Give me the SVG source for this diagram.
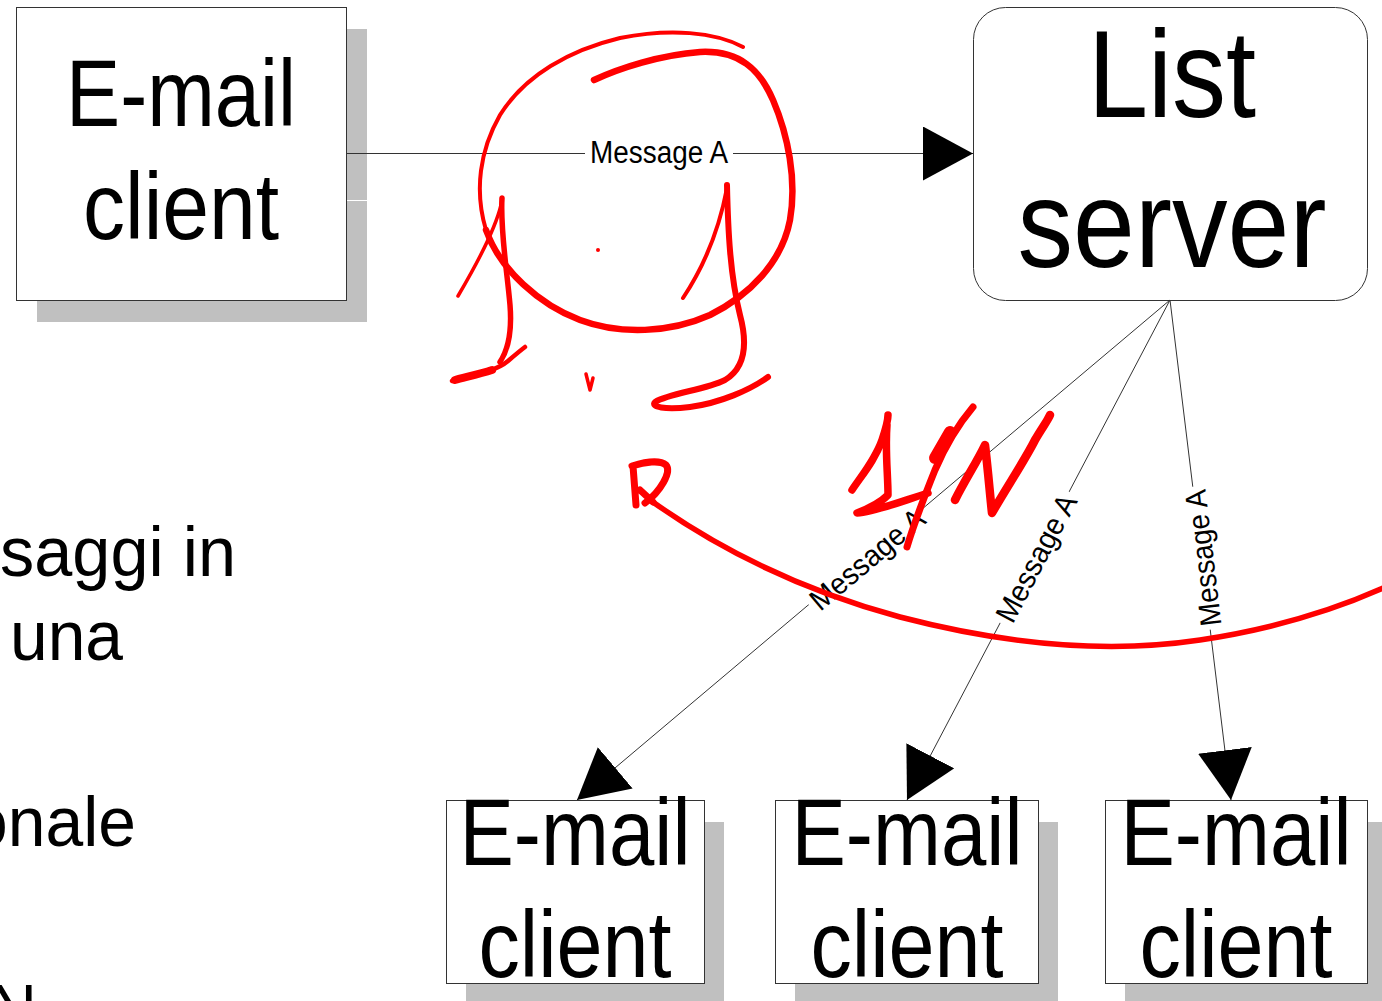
<svg xmlns="http://www.w3.org/2000/svg" width="1382" height="1001" viewBox="0 0 1382 1001">
  <style>
    .box { fill: #ffffff; stroke: #333333; stroke-width: 1; }
    .shadow { fill: #c0c0c0; }
    .big { font-family: "Liberation Sans", Arial, sans-serif; fill: #000; text-anchor: middle; }
    .side { font-family: "Liberation Sans", Arial, sans-serif; fill: #000; font-size: 71px; }
    .lbl { font-family: "Liberation Sans", Arial, sans-serif; fill: #000; text-anchor: middle; dominant-baseline: central; font-size: 30px; }
    .conn { stroke: #333333; stroke-width: 1; fill: none; }
    .ink { stroke: #ff0000; fill: none; stroke-linecap: round; stroke-linejoin: round; }
  </style>
  <defs>
    <marker id="arrow" markerUnits="userSpaceOnUse" markerWidth="50" markerHeight="54" refX="50" refY="27" orient="auto" viewBox="0 0 50 54">
      <path d="M0,0 L50,27 L0,54 Z" fill="#000"/>
    </marker>
  </defs>
  <rect width="1382" height="1001" fill="#ffffff"/>

  <g id="slide-text">
    <text class="side" x="0" y="576" textLength="236" lengthAdjust="spacingAndGlyphs">saggi in</text>
    <text class="side" x="10" y="660" textLength="113" lengthAdjust="spacingAndGlyphs">una</text>
    <text class="side" x="-30" y="846" textLength="166" lengthAdjust="spacingAndGlyphs">onale</text>
    <text class="side" x="-11" y="1034" textLength="48" lengthAdjust="spacingAndGlyphs">N</text>
  </g>

  <g id="client-top">
    <rect class="shadow" x="37" y="29" width="330" height="293"/>
    <line x1="347" y1="200.5" x2="367" y2="200.5" stroke="#ffffff" stroke-width="1"/>
    <rect class="box" x="16.5" y="7.5" width="330" height="293"/>
    <text class="big" x="181" y="126" font-size="94" textLength="230" lengthAdjust="spacingAndGlyphs">E-mail</text>
    <text class="big" x="181" y="239" font-size="94" textLength="196" lengthAdjust="spacingAndGlyphs">client</text>
  </g>

  <g id="list-server">
    <rect class="box" x="973.5" y="7.5" width="394" height="293" rx="32" ry="32"/>
    <text class="big" x="1172" y="117" font-size="124" textLength="168" lengthAdjust="spacingAndGlyphs">List</text>
    <text class="big" x="1172" y="267" font-size="124" textLength="309" lengthAdjust="spacingAndGlyphs">server</text>
  </g>

  <g id="client-1">
    <rect class="shadow" x="466" y="822" width="258" height="183"/>
    <rect class="box" x="446.5" y="800.5" width="258" height="183"/>
    <text class="big" x="575" y="865" font-size="94" textLength="231" lengthAdjust="spacingAndGlyphs">E-mail</text>
    <text class="big" x="575" y="977" font-size="94" textLength="193" lengthAdjust="spacingAndGlyphs">client</text>
  </g>

  <g id="client-2">
    <rect class="shadow" x="795" y="822" width="263" height="183"/>
    <rect class="box" x="775.5" y="800.5" width="263" height="183"/>
    <text class="big" x="907" y="865" font-size="94" textLength="231" lengthAdjust="spacingAndGlyphs">E-mail</text>
    <text class="big" x="907" y="977" font-size="94" textLength="193" lengthAdjust="spacingAndGlyphs">client</text>
  </g>

  <g id="client-3">
    <rect class="shadow" x="1125" y="822" width="262" height="183"/>
    <rect class="box" x="1105.5" y="800.5" width="262" height="183"/>
    <text class="big" x="1236" y="865" font-size="94" textLength="231" lengthAdjust="spacingAndGlyphs">E-mail</text>
    <text class="big" x="1236" y="977" font-size="94" textLength="193" lengthAdjust="spacingAndGlyphs">client</text>
  </g>

  <g id="connectors">
    <line class="conn" x1="346" y1="153.5" x2="973" y2="153.5" marker-end="url(#arrow)"/>
    <rect x="585" y="139" width="148" height="29" fill="#ffffff"/>
    <text class="big" x="659" y="163" font-size="31" textLength="138" lengthAdjust="spacingAndGlyphs">Message A</text>

    <line class="conn" x1="1170" y1="300" x2="577" y2="800" marker-end="url(#arrow)"/>
    <line class="conn" x1="1170" y1="300" x2="907" y2="800" marker-end="url(#arrow)"/>
    <line class="conn" x1="1170" y1="300" x2="1231" y2="800" marker-end="url(#arrow)"/>

    <g transform="translate(867,559) rotate(-40)">
      <rect x="-74" y="-15" width="148" height="30" fill="#ffffff"/>
      <text class="lbl" x="0" y="0" textLength="140" lengthAdjust="spacingAndGlyphs">Message A</text>
    </g>
    <g transform="translate(1036,558) rotate(-62.2)">
      <rect x="-74" y="-15" width="148" height="30" fill="#ffffff"/>
      <text class="lbl" x="0" y="0" textLength="140" lengthAdjust="spacingAndGlyphs">Message A</text>
    </g>
    <g transform="translate(1203,558) rotate(-96.8)">
      <rect x="-72" y="-15" width="144" height="30" fill="#ffffff"/>
      <text class="lbl" x="0" y="0" textLength="137" lengthAdjust="spacingAndGlyphs">Message A</text>
    </g>
  </g>

  <g id="annotations">
    <path class="ink" stroke-width="6.5" d="M594,80 C620,68 660,55 700,52 C740,50 760,70 773,100 C788,135 797,180 790,220 C782,262 750,295 710,315 C670,333 620,335 580,320 C540,305 500,270 486,230"/>
    <path class="ink" stroke-width="4" d="M486,230 C474,190 480,150 500,115 C525,75 570,50 620,38 C670,28 715,32 743,47"/>
    <path class="ink" stroke-width="5.5" d="M502,198 C500,230 507,270 510,305 C512,330 508,350 500,362"/>
    <path class="ink" stroke-width="3.5" d="M501,205 C495,230 478,262 458,296"/>
    <path class="ink" stroke-width="4.5" d="M452,381 C470,376 495,372 508,361 C515,355 521,350 525,347"/>
    <path class="ink" stroke-width="8" d="M455,380 C466,377 480,374 492,370"/>
    <path class="ink" stroke-width="3.5" d="M586,374 L590,390 L593,378"/>
    <circle cx="598" cy="250" r="2" fill="#ff0000"/>
    <path class="ink" stroke-width="6" d="M727,185 C728,230 730,275 740,315 C748,345 745,368 725,380 C705,390 670,393 655,402 C650,407 665,410 690,407 C720,403 750,390 768,377"/>
    <path class="ink" stroke-width="4" d="M727,188 C720,225 705,265 683,298"/>
    <path class="ink" stroke-width="7" d="M633,466 L636,505 M632,466 C645,462 660,460 666,465 C672,472 660,492 645,503 M640,490 L653,502"/>
    <path class="ink" stroke-width="5.5" d="M650,500 C720,550 800,590 900,617 C1000,643 1100,655 1200,640 C1280,628 1340,608 1390,585"/>
    <path class="ink" stroke-width="7.5" d="M852,490 C862,475 875,460 882,440 C886,428 888,418 888,415 M887,425 C885,450 888,475 888,495 C880,503 865,510 857,513 C875,512 905,500 928,493"/>
    <path class="ink" stroke-width="7" d="M907,547 C915,520 925,495 935,470 C948,440 962,420 973,407"/>
    <path class="ink" stroke-width="12" d="M935,458 L950,432"/>
    <path class="ink" stroke-width="8.5" d="M955,500 C965,480 978,460 985,445 C988,470 990,495 992,513 C1005,490 1025,460 1035,440 C1042,428 1048,420 1050,415"/>
  </g>
</svg>
